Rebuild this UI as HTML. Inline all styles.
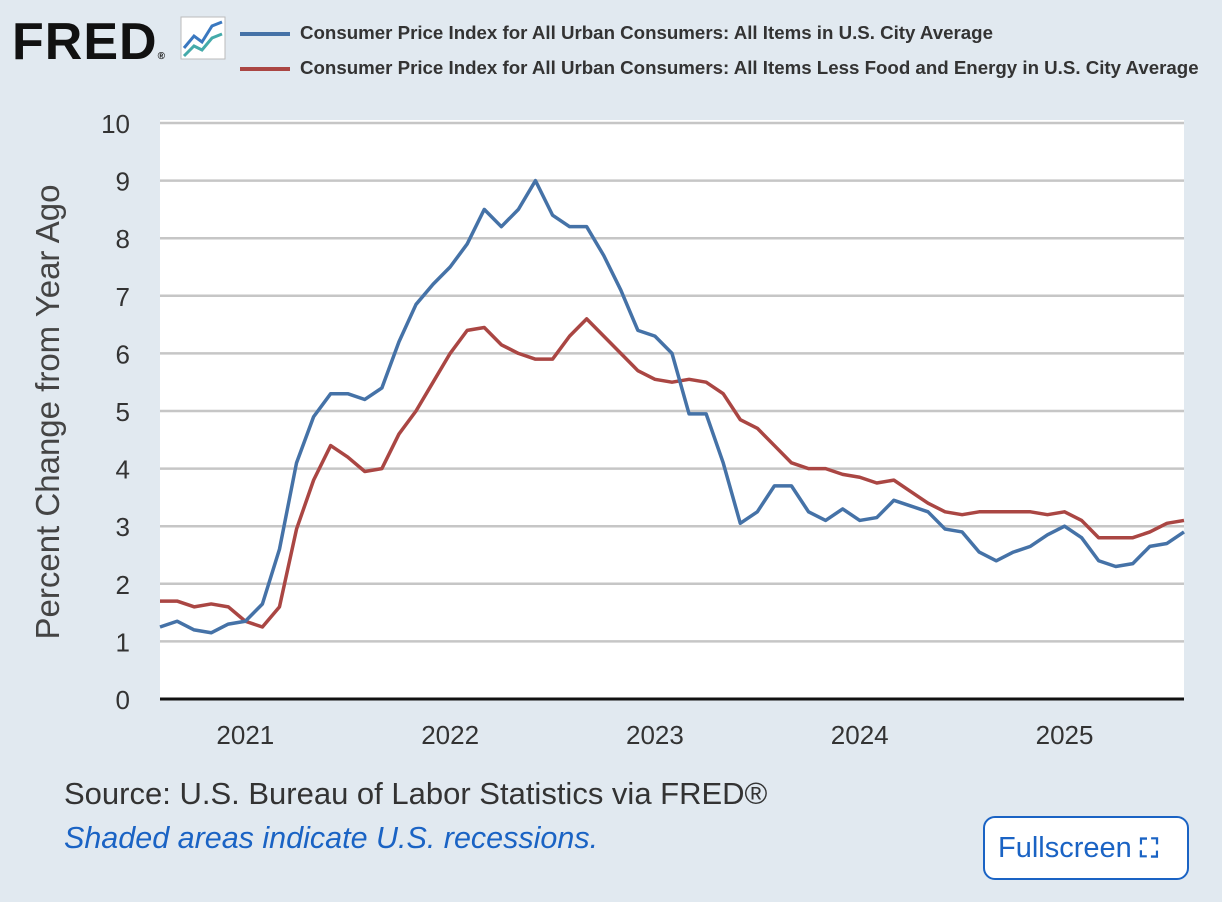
<!DOCTYPE html>
<html><head><meta charset="utf-8"><style>
body{margin:0;width:1222px;height:902px;background:#e1e9f0;font-family:"Liberation Sans",sans-serif;overflow:hidden;position:relative}
.a{position:absolute}
</style></head><body>
<div class="a" style="left:12px;top:12px;font-size:52px;font-weight:bold;color:#111;letter-spacing:1px">FRED<span style="font-size:10px">®</span></div>
<svg class="a" style="left:180px;top:16px" width="46" height="44"><rect x="1" y="1" width="44" height="42" fill="#fff" stroke="#bbb"/><polyline points="4,32 14,20 22,26 32,10 42,6" fill="none" stroke="#3a78c0" stroke-width="3"/><polyline points="4,40 14,30 22,34 32,22 42,18" fill="none" stroke="#4aa" stroke-width="3"/></svg>
<div class="a" style="left:240px;top:22px;font-size:18.7px;font-weight:bold;color:#333;white-space:nowrap"><span style="display:inline-block;width:50px;height:4px;background:#4572a7;vertical-align:middle;margin-right:10px"></span>Consumer Price Index for All Urban Consumers: All Items in U.S. City Average</div>
<div class="a" style="left:240px;top:57px;font-size:18.7px;font-weight:bold;color:#333;white-space:nowrap"><span style="display:inline-block;width:50px;height:4px;background:#aa4643;vertical-align:middle;margin-right:10px"></span>Consumer Price Index for All Urban Consumers: All Items Less Food and Energy in U.S. City Average</div>
<div class="a" style="left:48px;top:412px;transform:translate(-50%,-50%) rotate(-90deg);white-space:nowrap;font-size:33px;color:#444">Percent Change from Year Ago</div>
<svg class="a" id="chart" style="left:0;top:0" width="1222" height="780"></svg>
<div class="a" style="left:64px;top:776px;font-size:31px;color:#333;white-space:nowrap">Source: U.S. Bureau of Labor Statistics via FRED®</div>
<div class="a" style="left:64px;top:821px;font-size:30.5px;color:#1a63c4;font-style:italic;white-space:nowrap">Shaded areas indicate U.S. recessions.</div>
<div class="a" style="left:983px;top:816px;width:206px;height:64px;background:#fff;border:2px solid #1a63c4;border-radius:12px;box-sizing:border-box;font-size:29px;color:#1a63c4;line-height:60px;padding-left:13px;white-space:nowrap">Fullscreen <span style="font-weight:bold;font-size:26px">⛶</span></div>
<script>
const yTicks=[0,1,2,3,4,5,6,7,8,9,10];
const xYears=[2021,2022,2023,2024,2025];
const cpi=[1.25,1.35,1.2,1.15,1.3,1.35,1.65,2.6,4.1,4.9,5.3,5.3,5.2,5.4,6.2,6.85,7.2,7.5,7.9,8.5,8.2,8.5,9.0,8.4,8.2,8.2,7.7,7.1,6.4,6.3,6.0,4.95,4.95,4.1,3.05,3.25,3.7,3.7,3.25,3.1,3.3,3.1,3.15,3.45,3.35,3.25,2.95,2.9,2.55,2.4,2.55,2.65,2.85,3.0,2.8,2.4,2.3,2.35,2.65,2.7,2.9];
const core=[1.7,1.7,1.6,1.65,1.6,1.35,1.25,1.6,2.95,3.8,4.4,4.2,3.95,4.0,4.6,5.0,5.5,6.0,6.4,6.45,6.15,6.0,5.9,5.9,6.3,6.6,6.3,6.0,5.7,5.55,5.5,5.55,5.5,5.3,4.85,4.7,4.4,4.1,4.0,4.0,3.9,3.85,3.75,3.8,3.6,3.4,3.25,3.2,3.25,3.25,3.25,3.25,3.2,3.25,3.1,2.8,2.8,2.8,2.9,3.05,3.1];
const X0=160,X1=1184,Y0=699,Y1=123;
const xs=i=>X0+i*(X1-X0)/60, ys=v=>Y0-(v/10)*(Y0-Y1);
const xYear=y=>X0+((y-2020)*12-7)*(X1-X0)/60;
const svg=document.getElementById('chart');
const NS='http://www.w3.org/2000/svg';
function mk(t,a){const e=document.createElementNS(NS,t);for(const k in a)e.setAttribute(k,a[k]);svg.appendChild(e);return e;}
const bg=mk('rect',{x:X0,y:Y1-3,width:X1-X0,height:Y0-Y1+3,fill:'#fff'});


yTicks.forEach(v=>{
 if(v>0){const g=mk('line',{x1:X0,x2:X1,y1:ys(v),y2:ys(v),stroke:'#c6c6c6','stroke-width':2.5});
 
 }
 const t=mk('text',{x:130,y:ys(v)+10,'text-anchor':'end','font-size':26,fill:'#333','font-family':'Liberation Sans'});
 t.textContent=v;
 
 
});
const ax=mk('line',{x1:X0,x2:X1,y1:Y0,y2:Y0,stroke:'#111','stroke-width':3});


xYears.forEach(y=>{
 const t=mk('text',{x:xYear(y),y:744,'text-anchor':'middle','font-size':26,fill:'#333','font-family':'Liberation Sans'});
 t.textContent=y;
 
 
});
[[core,'#aa4643','core-cpi-line'],[cpi,'#4572a7','cpi-line']].forEach(([d,c,n])=>{
 const p=mk('polyline',{points:d.map((v,i)=>xs(i)+','+ys(v)).join(' '),fill:'none',stroke:c,'stroke-width':3.5,'stroke-linejoin':'round'});
 
 
});
</script>
</body></html>
